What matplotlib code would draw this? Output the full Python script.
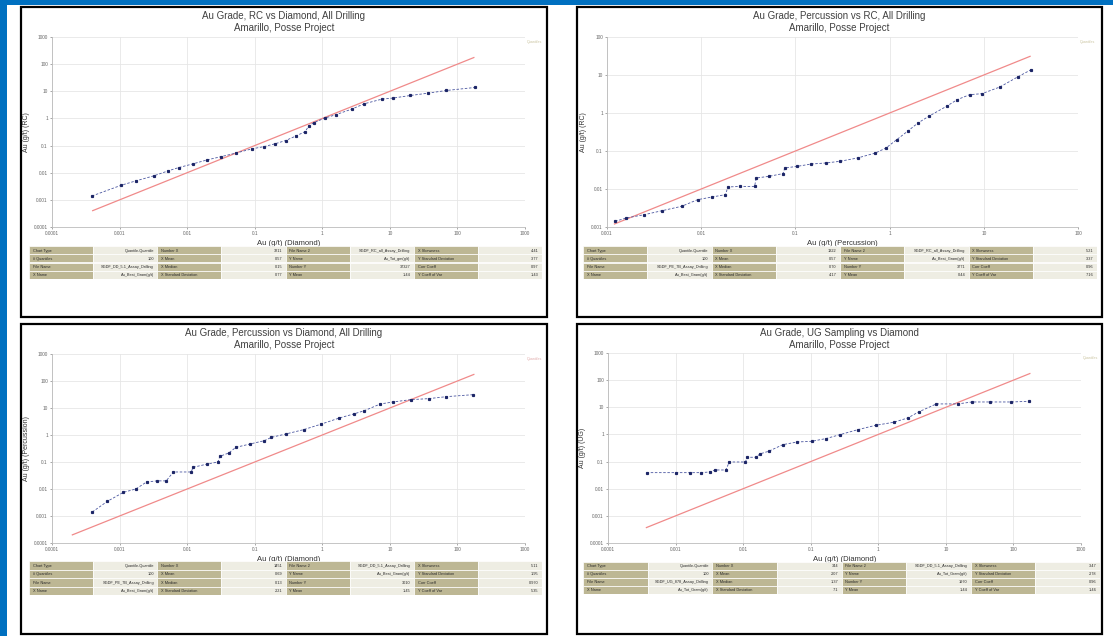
import matplotlib
matplotlib.use("Agg")
import matplotlib.pyplot as plt
from matplotlib.patches import Rectangle
from matplotlib.ticker import FixedLocator, NullLocator

plt.rcParams['font.family'] = ['Liberation Sans Narrow', 'Liberation Sans', 'DejaVu Sans']

W, H = 1113, 636

# ---- data (quantile pairs, g/t) ----
wide_ticks = [0.0001, 0.001, 0.01, 0.1, 1, 10, 100, 1000]
wide_labels = ['0.0001', '0.001', '0.01', '0.1', '1', '10', '100', '1000']
short_ticks = [0.001, 0.01, 0.1, 1, 10, 100]
short_labels = ['0.001', '0.01', '0.1', '1', '10', '100']

rc_dd_x = [0.00039, 0.00106, 0.00173, 0.00318, 0.00518, 0.00745, 0.0121, 0.0197, 0.0321, 0.0521,
           0.0904, 0.138, 0.199, 0.286, 0.412, 0.560, 0.631, 0.759, 1.09, 1.57,
           2.72, 4.17, 7.64, 11.0, 20.2, 37.2, 68.2, 181]
rc_dd_y = [0.00139, 0.00346, 0.00498, 0.00762, 0.0116, 0.0154, 0.0211, 0.0296, 0.0393, 0.0525,
           0.0755, 0.0918, 0.116, 0.153, 0.228, 0.329, 0.533, 0.706, 1.03, 1.36,
           2.20, 3.46, 5.15, 5.61, 7.00, 8.57, 10.7, 13.8]

pc_rc_x = [0.00122, 0.00161, 0.00249, 0.00385, 0.00619, 0.00916, 0.0130, 0.0181, 0.0192, 0.0260,
           0.0368, 0.0385, 0.0521, 0.0738, 0.0771, 0.104, 0.148, 0.209, 0.296, 0.457,
           0.706, 0.916, 1.19, 1.55, 2.00, 2.60, 4.02, 5.21, 7.06, 9.57, 14.8, 22.8, 31.8]
pc_rc_y = [0.00141, 0.00173, 0.00211, 0.00269, 0.00350, 0.00524, 0.00615, 0.00710, 0.0113, 0.0117,
           0.0117, 0.0195, 0.0215, 0.0254, 0.0357, 0.0394, 0.0455, 0.0483, 0.0535, 0.0655,
           0.0885, 0.120, 0.199, 0.330, 0.546, 0.817, 1.50, 2.24, 3.03, 3.23, 4.83, 8.85, 13.8]

pc_dd_x = [0.000395, 0.000659, 0.00114, 0.00174, 0.00251, 0.00361, 0.00490, 0.00625, 0.0115, 0.0122,
           0.0199, 0.0286, 0.0304, 0.0412, 0.0526, 0.0855, 0.139, 0.177, 0.288, 0.530,
           0.973, 1.79, 2.91, 4.19, 7.24, 11.1, 20.4, 37.4, 68.7, 171]
pc_dd_y = [0.00141, 0.00349, 0.00753, 0.0100, 0.0182, 0.0200, 0.0200, 0.0427, 0.0427, 0.0634,
           0.0843, 0.100, 0.162, 0.215, 0.349, 0.465, 0.617, 0.820, 1.09, 1.58,
           2.55, 4.27, 6.00, 7.96, 14.1, 16.7, 20.4, 22.2, 26.3, 31.2]

ug_dd_x = [0.000372, 0.00101, 0.00164, 0.00237, 0.00321, 0.00385, 0.00553, 0.00625, 0.0108, 0.0115,
           0.0156, 0.0176, 0.0238, 0.0388, 0.0631, 0.103, 0.167, 0.272, 0.499, 0.916,
           1.68, 2.74, 3.94, 7.24, 15.0, 24.4, 44.9, 93.1, 171]
ug_dd_y = [0.0391, 0.0391, 0.0391, 0.0391, 0.0414, 0.0490, 0.0490, 0.0966, 0.0966, 0.144,
           0.144, 0.191, 0.239, 0.421, 0.527, 0.558, 0.700, 0.984, 1.50, 2.17,
           2.80, 4.05, 6.73, 13.3, 13.3, 15.7, 15.7, 15.7, 16.6]

# 1:1 reference line ranges
one2one = [[0.0004, 175], [0.0012, 31], [0.0002, 175], [0.00037, 175]]

titles = ['Au Grade, RC vs Diamond, All Drilling\nAmarillo, Posse Project',
          'Au Grade, Percussion vs RC, All Drilling\nAmarillo, Posse Project',
          'Au Grade, Percussion vs Diamond, All Drilling\nAmarillo, Posse Project',
          'Au Grade, UG Sampling vs Diamond\nAmarillo, Posse Project']
xlabels = ['Au (g/t) (Diamond)', 'Au (g/t) (Percussion)', 'Au (g/t) (Diamond)', 'Au (g/t) (Diamond)']
ylabels = ['Au (g/t) (RC)', 'Au (g/t) (RC)', 'Au (g/t) (Percussion)', 'Au (g/t) (UG)']

tables = [
    [['Chart Type', 'Quantile-Quantile', 'Number X', '3211', 'File Name 2', 'SGDF_RC_all_Assay_Drilling', 'X Skewness', '4.41'],
     ['# Quantiles', '100', 'X Mean', '0.57', 'Y Name', 'Au_Tot_gm(g/t)', 'Y Standard Deviation', '3.77'],
     ['File Name', 'SGDF_DD_5.1_Assay_Drilling', 'X Median', '0.15', 'Number Y', '37327', 'Corr Coeff', '0.97'],
     ['X Name', 'Au_Best_Gram(g/t)', 'X Standard Deviation', '0.77', 'Y Mean', '1.44', 'Y Coeff of Var', '1.43']],
    [['Chart Type', 'Quantile-Quantile', 'Number X', '1322', 'File Name 2', 'SGDF_RC_all_Assay_Drilling', 'X Skewness', '5.21'],
     ['# Quantiles', '100', 'X Mean', '0.57', 'Y Name', 'Au_Best_Gram(g/t)', 'Y Standard Deviation', '3.37'],
     ['File Name', 'SGDF_PE_7B_Assay_Drilling', 'X Median', '0.70', 'Number Y', '3771', 'Corr Coeff', '0.96'],
     ['X Name', 'Au_Best_Gram(g/t)', 'X Standard Deviation', '4.17', 'Y Mean', '0.44', 'Y Coeff of Var', '7.16']],
    [['Chart Type', 'Quantile-Quantile', 'Number X', '1451', 'File Name 2', 'SGDF_DD_5.1_Assay_Drilling', 'X Skewness', '5.11'],
     ['# Quantiles', '100', 'X Mean', '0.69', 'Y Name', 'Au_Best_Gram(g/t)', 'Y Standard Deviation', '1.95'],
     ['File Name', 'SGDF_PE_7B_Assay_Drilling', 'X Median', '0.13', 'Number Y', '3010', 'Corr Coeff', '0.970'],
     ['X Name', 'Au_Best_Gram(g/t)', 'X Standard Deviation', '2.21', 'Y Mean', '1.45', 'Y Coeff of Var', '5.35']],
    [['Chart Type', 'Quantile-Quantile', 'Number X', '344', 'File Name 2', 'SGDF_DD_5.1_Assay_Drilling', 'X Skewness', '3.47'],
     ['# Quantiles', '100', 'X Mean', '2.07', 'Y Name', 'Au_Tot_Gram(g/t)', 'Y Standard Deviation', '2.78'],
     ['File Name', 'SGDF_UG_878_Assay_Drilling', 'X Median', '1.37', 'Number Y', '1970', 'Corr Coeff', '0.96'],
     ['X Name', 'Au_Tot_Gram(g/t)', 'X Standard Deviation', '7.1', 'Y Mean', '1.44', 'Y Coeff of Var', '1.46']],
]

series = [(rc_dd_x, rc_dd_y), (pc_rc_x, pc_rc_y), (pc_dd_x, pc_dd_y), (ug_dd_x, ug_dd_y)]
axis_ticks = [(wide_ticks, wide_labels), (short_ticks, short_labels),
              (wide_ticks, wide_labels), (wide_ticks, wide_labels)]

# ---- layout in pixels (left, top, right, bottom) ----
frames = [(21, 7, 547, 317), (577, 7, 1102, 317), (21, 324, 547, 634), (577, 324, 1102, 634)]
plots = [(52, 37, 525, 227), (607, 37, 1078, 227), (52, 354, 525, 543), (608, 353, 1081, 543)]
table_boxes = [(29, 246, 542, 279), (583, 246, 1097, 279), (29, 561, 542, 595), (583, 562, 1100, 594)]


def box(l, t, r, b):
    return [l / W, 1 - b / H, (r - l) / W, (b - t) / H]


fig = plt.figure(figsize=(W / 100, H / 100), dpi=100, facecolor='white')

blue = '#0070C0'
fig.add_artist(Rectangle((0, 1 - 5 / H), 1, 5 / H, transform=fig.transFigure, fc=blue, ec='none', zorder=0))
fig.add_artist(Rectangle((0, 0), 7 / W, 1, transform=fig.transFigure, fc=blue, ec='none', zorder=0))

olive = '#BDB794'
light = '#EEEDE3'

for i in range(4):
    l, t, r, b = frames[i]
    fig.add_artist(Rectangle((l / W, 1 - b / H), (r - l) / W, (b - t) / H, transform=fig.transFigure,
                             fc='white', ec='black', lw=1.6, zorder=0))
    cx = (l + r) / 2 / W
    fig.text(cx, 1 - (t + 4) / H, titles[i], ha='center', va='top', fontsize=7,
             color='#404040', linespacing=1.3)

    ax = fig.add_axes(box(*plots[i]))
    ax.set_xscale('log')
    ax.set_yscale('log')
    tk, tl = axis_ticks[i]
    ax.set_xlim(tk[0], tk[-1])
    ax.set_ylim(tk[0], tk[-1])
    ax.xaxis.set_major_locator(FixedLocator(tk))
    ax.yaxis.set_major_locator(FixedLocator(tk))
    ax.xaxis.set_minor_locator(NullLocator())
    ax.yaxis.set_minor_locator(NullLocator())
    ax.set_xticklabels(tl)
    ax.set_yticklabels(tl)
    ax.grid(True, color='#E6E6E6', lw=0.6)
    for s in ['top', 'right']:
        ax.spines[s].set_visible(False)
    for s in ['left', 'bottom']:
        ax.spines[s].set_color('#BBBBBB')
        ax.spines[s].set_linewidth(0.6)
    ax.tick_params(labelsize=3.4, colors='#666666', length=1.5, width=0.4, pad=1.5)
    ax.set_xlabel(xlabels[i], fontsize=5.5, color='#333333', labelpad=3)
    ax.set_ylabel(ylabels[i], fontsize=5, color='#333333', labelpad=3)

    lo, hi = one2one[i]
    ax.plot([lo, hi], [lo, hi], color='#F08A8A', lw=0.9, zorder=2)
    xs, ys = series[i]
    ax.plot(xs, ys, color='#4A56A0', lw=0.6, ls=(0, (3, 2)), marker='s', ms=1.3,
            mfc='#1C2566', mec='#1C2566', zorder=3)
    ax.text(1.005, 0.985, 'Quantiles', transform=ax.transAxes, fontsize=2.6,
            color='#C8C29C' if i != 2 else '#E0A8A8', ha='left', va='top')

    tax = fig.add_axes(box(*table_boxes[i]))
    tax.set_xlim(0, 8)
    tax.set_ylim(4, 0)
    tax.axis('off')
    rows = tables[i]
    for r_i, row in enumerate(rows):
        for c_i, cell in enumerate(row):
            fc = olive if c_i % 2 == 0 else light
            tax.add_patch(Rectangle((c_i, r_i), 1, 1, fc=fc, ec='white', lw=0.5))
            if c_i % 2 == 0:
                tax.text(c_i + 0.06, r_i + 0.55, cell, fontsize=2.8, color='#2A2A2A',
                         ha='left', va='center')
            else:
                tax.text(c_i + 0.95, r_i + 0.55, cell, fontsize=2.8, color='#2A2A2A',
                         ha='right', va='center')

fig.savefig('out.png', dpi=100)
